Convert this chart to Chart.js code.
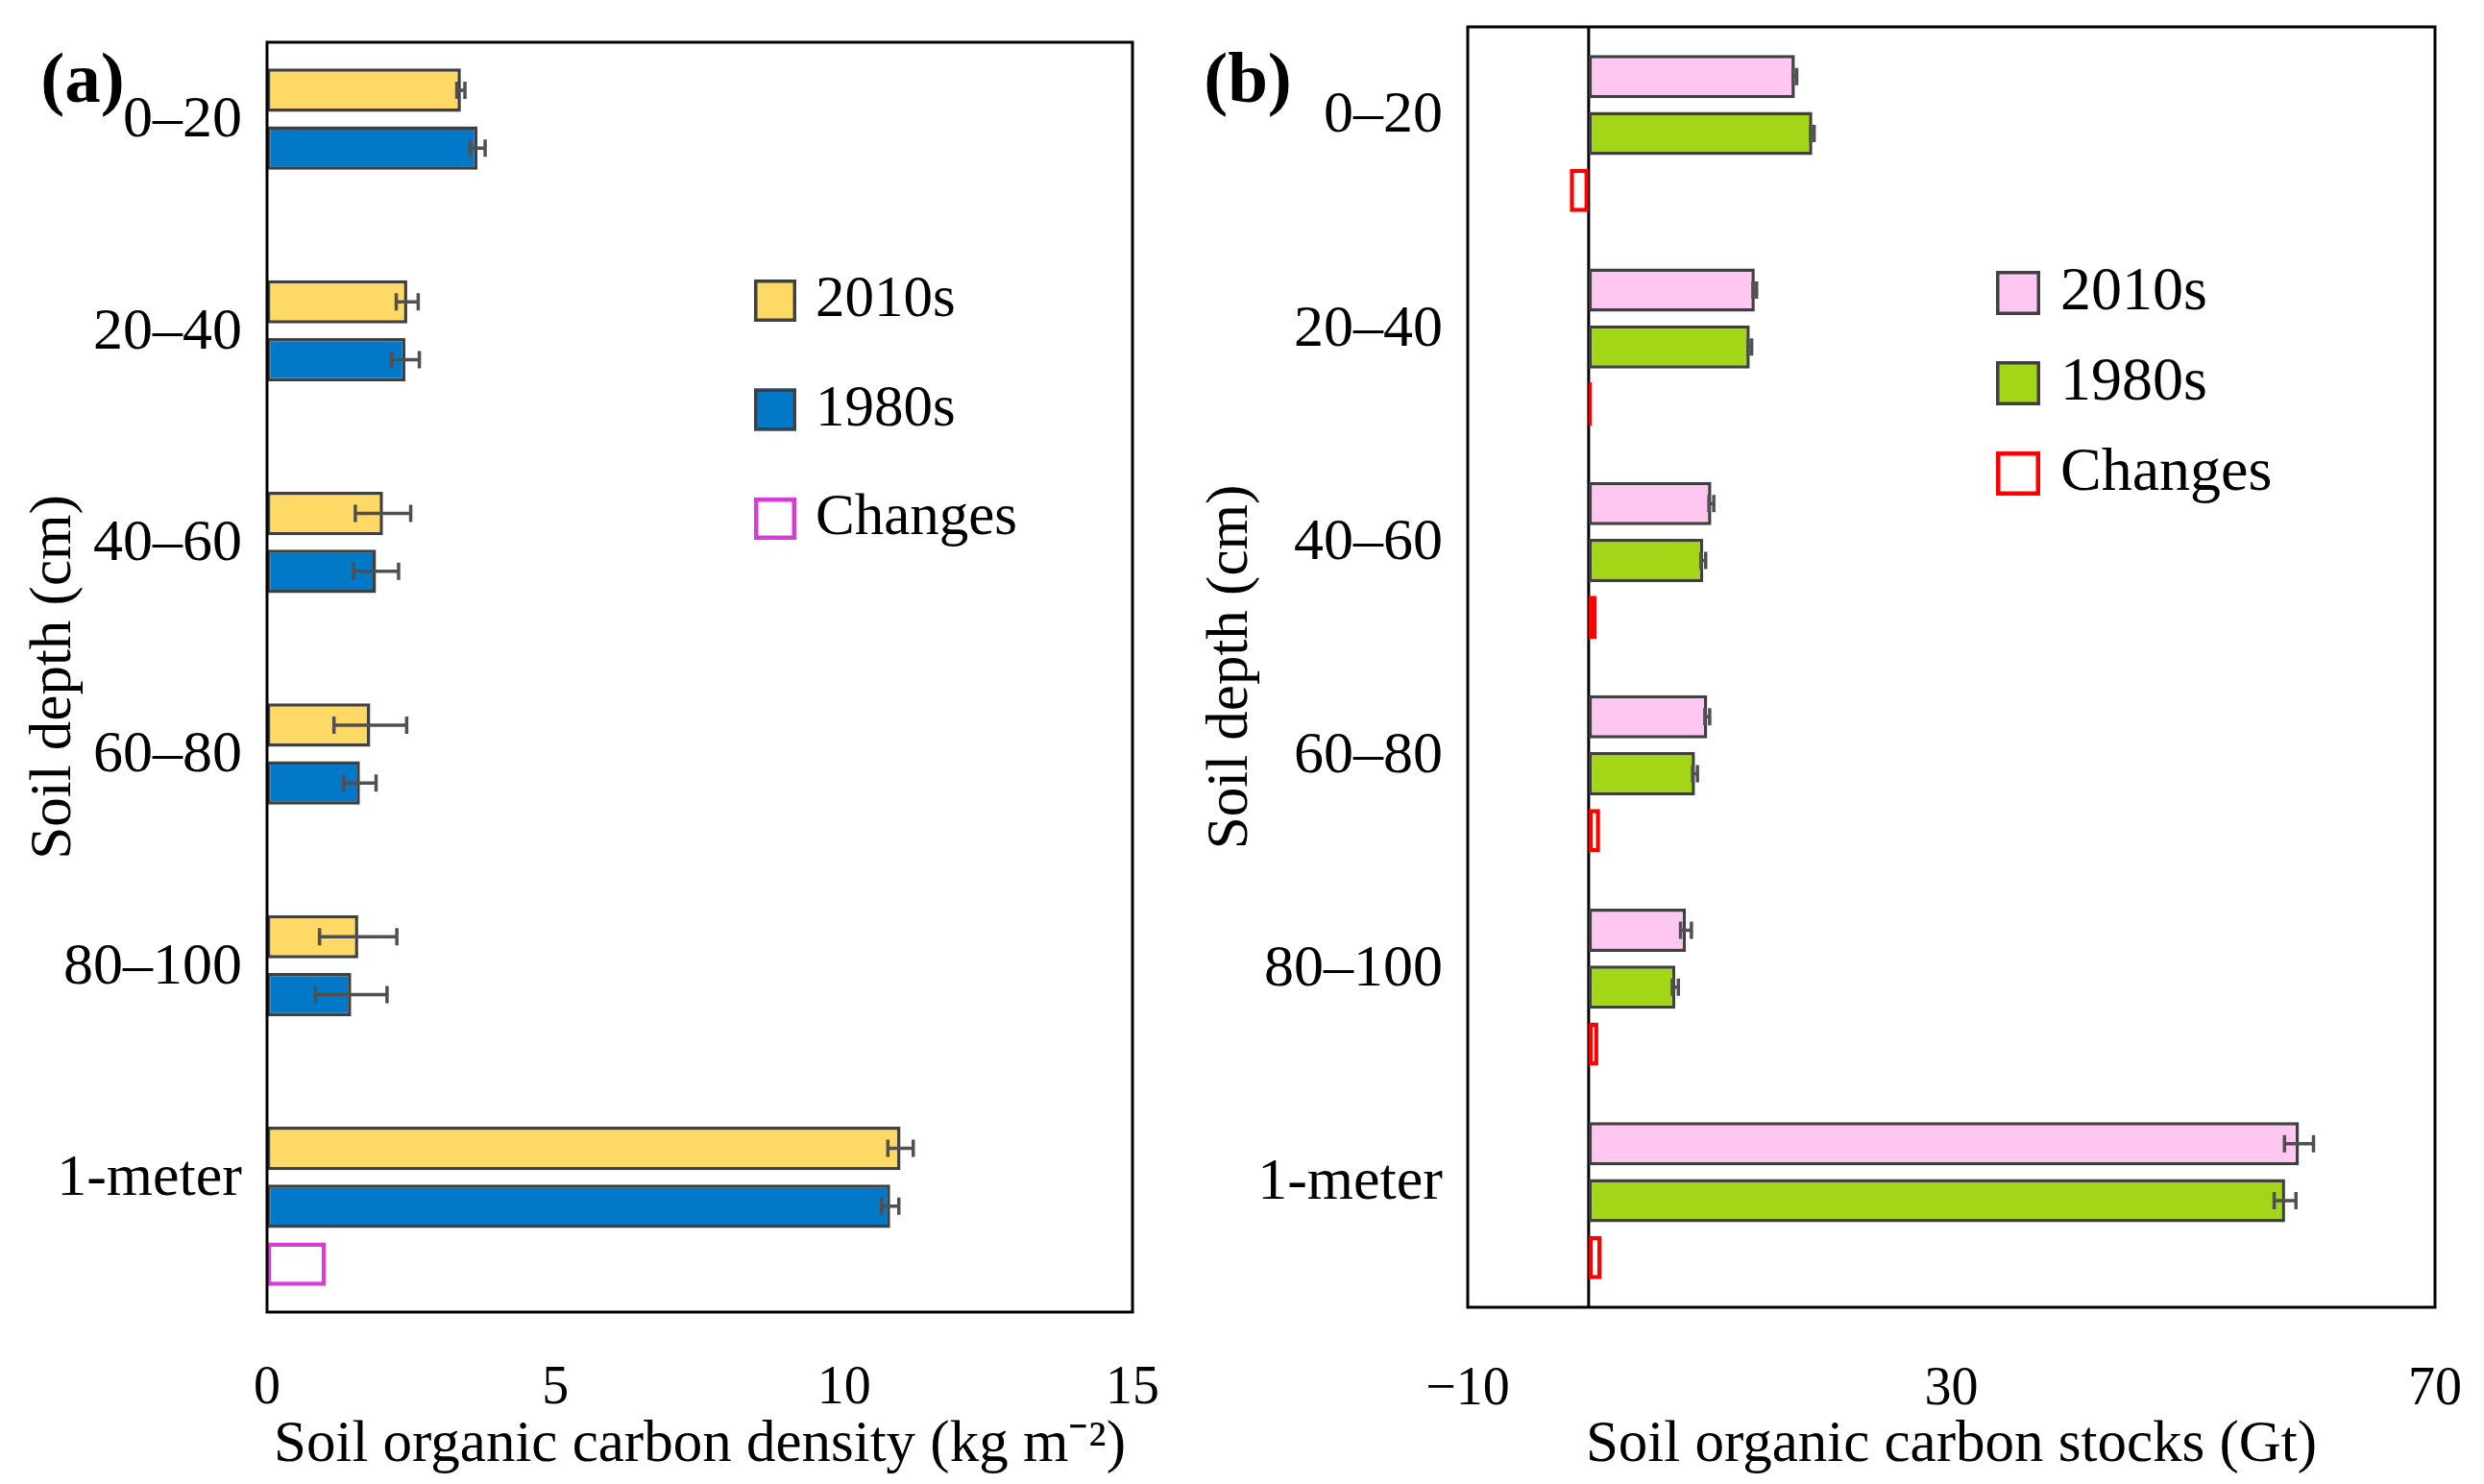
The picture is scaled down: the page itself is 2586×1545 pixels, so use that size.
<!DOCTYPE html>
<html>
<head>
<meta charset="utf-8">
<script src="https://cdn.jsdelivr.net/npm/chart.js"></script>
<style>
    html, body { margin: 0; padding: 0; background: #fff; overflow: hidden; }
    #stage { position: relative; width: 2586px; height: 1545px; }
    .panel { position: absolute; top: 0; height: 1545px; }
    .tag { position: absolute; font: bold 75px 'Liberation Serif', 'Times New Roman', serif; line-height: 1; color: #000; transform: translate(-50%, -50%); }
</style>
</head>
<body>
<div id="stage">
    <div class="panel" style="left:0;width:1230px"><canvas id="density-chart"></canvas></div>
    <div class="panel" style="left:1230px;width:1356px"><canvas id="stocks-chart"></canvas></div>
    <div class="tag" style="left:86px;top:80px">(a)</div>
    <div class="tag" style="left:1299px;top:80px">(b)</div>
</div>
<script>
// data
const depthLabels = ['0–20', '20–40', '40–60', '60–80', '80–100', '1-meter']

// (a) soil organic carbon density, kg m-2
const density2010s = [3.36, 2.43, 2.01, 1.79, 1.58, 10.98]
const density2010sErr = [0.07, 0.19, 0.48, 0.63, 0.67, 0.22]
const density1980s = [3.65, 2.40, 1.89, 1.61, 1.46, 10.80]
const density1980sErr = [0.13, 0.24, 0.39, 0.28, 0.62, 0.15]
const densityChanges = [null, null, null, null, null, 1.02]
const densityTicks = { min: 0, max: 15, step: 5 }

// (b) soil organic carbon stocks, Gt
const stocks2010s = [17.06, 13.74, 10.15, 9.81, 8.05, 58.75]
const stocks2010sErr = [0.15, 0.15, 0.2, 0.2, 0.45, 1.2]
const stocks1980s = [18.5, 13.33, 9.48, 8.8, 7.17, 57.6]
const stocks1980sErr = [0.15, 0.15, 0.2, 0.2, 0.25, 0.9]
const stocksChanges = [-1.56, 0.25, 0.68, 0.95, 0.8, 1.08]
const stocksTicks = { min: -10, max: 70, step: 40 }

Chart.defaults.font.family = "'Liberation Serif', 'Times New Roman', serif"
Chart.defaults.color = '#000'

// start: plugins
const boxFrame = {
    id: 'boxFrame',
    beforeDatasetsDraw(chart, args, opts) {
        if (!opts.zeroLine) return
        const a = chart.chartArea
        const ctx = chart.ctx
        const x = chart.scales.x.getPixelForValue(0)
        ctx.save()
        ctx.strokeStyle = '#000'
        ctx.lineWidth = 3
        ctx.beginPath()
        ctx.moveTo(x, a.top)
        ctx.lineTo(x, a.bottom)
        ctx.stroke()
        ctx.restore()
    },
    afterDatasetsDraw(chart) {
        const a = chart.chartArea
        const ctx = chart.ctx
        ctx.save()
        ctx.strokeStyle = '#000'
        ctx.lineWidth = 3
        ctx.strokeRect(a.left, a.top, a.right - a.left, a.bottom - a.top)
        ctx.restore()
    }
}

const errorBars = {
    id: 'errorBars',
    afterDatasetsDraw(chart) {
        const ctx = chart.ctx
        const xs = chart.scales.x
        ctx.save()
        ctx.strokeStyle = '#505050'
        ctx.lineWidth = 3.5
        chart.data.datasets.forEach(function (ds, i) {
            if (!ds.errors) return
            chart.getDatasetMeta(i).data.forEach(function (bar, j) {
                const v = ds.data[j]
                const e = ds.errors[j]
                if (v == null || !e) return
                const x1 = xs.getPixelForValue(v - e)
                const x2 = xs.getPixelForValue(v + e)
                const y = bar.y
                ctx.beginPath()
                ctx.moveTo(x1, y); ctx.lineTo(x2, y)
                ctx.moveTo(x1, y - 9); ctx.lineTo(x1, y + 9)
                ctx.moveTo(x2, y - 9); ctx.lineTo(x2, y + 9)
                ctx.stroke()
            })
        })
        ctx.restore()
    }
}

const boxLegend = {
    id: 'boxLegend',
    afterDraw(chart, args, opts) {
        const a = chart.chartArea
        const ctx = chart.ctx
        ctx.save()
        ctx.font = opts.fontSize + "px 'Liberation Serif', 'Times New Roman', serif"
        ctx.textBaseline = 'middle'
        ctx.textAlign = 'left'
        chart.data.datasets.forEach(function (ds, i) {
            const x = a.left + opts.x
            const y = a.top + opts.y + i * opts.gap
            const s = opts.box
            const lw = ds.borderWidth
            ctx.fillStyle = ds.backgroundColor
            ctx.fillRect(x, y - s / 2, s, s)
            ctx.lineWidth = lw
            ctx.strokeStyle = ds.borderColor
            ctx.strokeRect(x + lw / 2, y - s / 2 + lw / 2, s - lw, s - lw)
            ctx.fillStyle = '#000'
            ctx.fillText(ds.label, x + opts.textGap, y)
        })
        ctx.restore()
    }
}
// end: plugins

function makeChart(id, p) {
    return new Chart(document.getElementById(id), {
        type: 'bar',
        data: {
            labels: depthLabels,
            datasets: [
                { label: '2010s', data: p.d2010, errors: p.e2010, backgroundColor: p.c2010, borderColor: '#404040', borderWidth: 3.5 },
                { label: '1980s', data: p.d1980, errors: p.e1980, backgroundColor: p.c1980, borderColor: '#404040', borderWidth: 3.5 },
                { label: 'Changes', data: p.dChg, backgroundColor: '#ffffff', borderColor: p.cChg, borderWidth: 4.5 }
            ]
        },
        options: {
            indexAxis: 'y',
            responsive: true,
            maintainAspectRatio: false,
            animation: false,
            datasets: {
                bar: { borderSkipped: false, categoryPercentage: p.catPct, barPercentage: p.barPct }
            },
            layout: { padding: { top: p.top, right: 51, left: 0, bottom: 0 } },
            scales: {
                x: {
                    type: 'linear',
                    min: p.ticks.min,
                    max: p.ticks.max,
                    // tick marks hidden, their length only spaces the labels
                    grid: { display: false, drawTicks: true, tickLength: p.xGap },
                    border: { display: false },
                    ticks: {
                        stepSize: p.ticks.step,
                        font: { size: 56 },
                        padding: 2,
                        maxRotation: 0,
                        callback: function (v) { return String(v).replace('-', '\u2212') }
                    },
                    title: { display: true, text: p.xTitle, font: { size: 61 }, padding: { top: 0, bottom: 3 } },
                    afterFit: function (s) { s.height = p.xHeight }
                },
                y: {
                    grid: { display: false, drawTicks: true, tickLength: 26 },
                    border: { display: false },
                    ticks: { font: { size: 62, lineHeight: 0.8 }, padding: 0, labelOffset: p.labelOffset },
                    title: { display: true, text: 'Soil depth (cm)', font: { size: 61 }, padding: { top: p.yTitlePad, bottom: 0 } },
                    afterFit: function (s) { s.width = p.yWidth }
                }
            },
            plugins: {
                legend: { display: false },
                tooltip: { enabled: false },
                boxFrame: { zeroLine: p.zeroLine },
                boxLegend: p.legend
            }
        },
        plugins: [boxFrame, errorBars, boxLegend]
    })
}

makeChart('density-chart', {
    d2010: density2010s, e2010: density2010sErr,
    d1980: density1980s, e1980: density1980sErr,
    dChg: densityChanges,
    c2010: '#FED966', c1980: '#0179C8', cChg: '#D63DD6',
    ticks: densityTicks,
    xTitle: 'Soil organic carbon density (kg m\u207B\u00B2)',
    top: 44, xHeight: 179, yWidth: 278, xGap: 45, yTitlePad: 20,
    labelOffset: -28, catPct: 0.82, barPct: 0.75, zeroLine: false,
    legend: { x: 507, y: 269, gap: 113.5, box: 44, textGap: 64, fontSize: 61 }
})

makeChart('stocks-chart', {
    d2010: stocks2010s, e2010: stocks2010sErr,
    d1980: stocks1980s, e1980: stocks1980sErr,
    dChg: stocksChanges,
    c2010: '#FDC7F2', c1980: '#A3D616', cChg: '#FF0000',
    ticks: stocksTicks,
    xTitle: 'Soil organic carbon stocks (Gt)',
    top: 28, xHeight: 184, yWidth: 298, xGap: 51, yTitlePad: 15,
    labelOffset: -18, catPct: 0.80, barPct: 0.76, zeroLine: true,
    legend: { x: 550, y: 277, gap: 94, box: 46, textGap: 67, fontSize: 64 }
})
</script>
</body>
</html>
